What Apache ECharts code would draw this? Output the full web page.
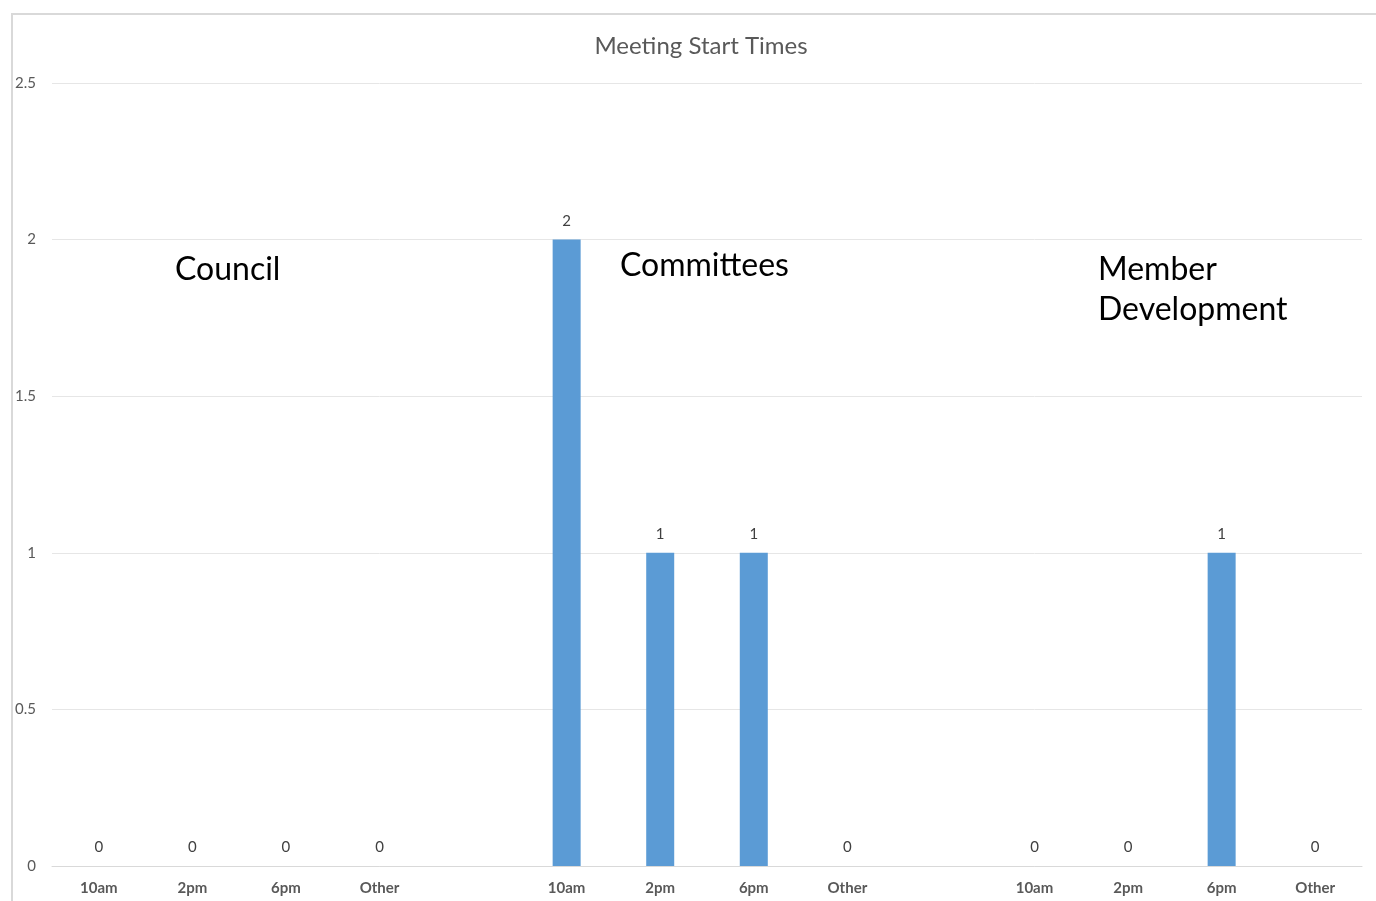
<!DOCTYPE html>
<html lang="en">
<head>
    <meta charset="UTF-8">
    <title>Meeting Start Times</title>
    <script src="https://cdn.jsdelivr.net/npm/echarts@6/dist/echarts.min.js"></script>
    <style>
        * { margin: 0; padding: 0; }
        #main { width: 1376px; height: 901px; background: #fff; }
    </style>
</head>
<body>
    <div id="main"></div>
    <script>
        // 14 slots: three groups of four, with an empty slot between groups
        var categories = ['10am', '2pm', '6pm', 'Other', '', '10am', '2pm', '6pm', 'Other', '', '10am', '2pm', '6pm', 'Other'];
        var counts = [0, 0, 0, 0, '-', 2, 1, 1, 0, '-', 0, 0, 1, 0];
        var groupNames = ['Council', 'Committees', 'Member\nDevelopment'];

        var myChart = echarts.init(document.getElementById('main'));
        var font = 'Lato, "Open Sans", sans-serif';

        var option = {
            backgroundColor: '#fff',
            animation: false,
            title: {
                text: 'Meeting Start Times',
                left: 696,
                textAlign: 'center',
                top: 29,
                textStyle: { color: '#595959', fontSize: 24, fontWeight: 'normal', fontFamily: font }
            },
            grid: { left: 52, right: 14, top: 83, bottom: 35 },
            xAxis: {
                type: 'category',
                data: categories,
                axisLine: { lineStyle: { color: '#d9d9d9' } },
                axisTick: { show: false },
                axisLabel: { color: '#595959', fontSize: 15, fontWeight: 'bold', margin: 15, interval: 0, fontFamily: font }
            },
            yAxis: {
                type: 'value',
                min: 0,
                max: 2.5,
                interval: 0.5,
                axisLine: { show: false },
                axisTick: { show: false },
                splitLine: { lineStyle: { color: '#e6e6e6' } },
                axisLabel: { color: '#595959', fontSize: 15, margin: 16, fontFamily: font }
            },
            graphic: [
                {
                    type: 'rect',
                    shape: { x: 12, y: 14, width: 1400, height: 1000 },
                    style: { fill: 'none', stroke: '#d9d9d9', lineWidth: 2 },
                    silent: true
                },
                {
                    type: 'text', left: 175, top: 254,
                    style: { text: groupNames[0], fill: '#000', font: '32px ' + font }
                },
                {
                    type: 'text', left: 620, top: 250,
                    style: { text: groupNames[1], fill: '#000', font: '32px ' + font }
                },
                {
                    type: 'text', left: 1098, top: 250,
                    style: { text: groupNames[2], fill: '#000', font: '32px ' + font, lineHeight: 40 }
                }
            ],
            series: [
                {
                    type: 'bar',
                    data: counts,
                    barWidth: 28,
                    itemStyle: { color: '#5b9bd5' },
                    label: {
                        show: true,
                        position: 'top',
                        distance: 11,
                        color: '#404040',
                        fontSize: 15,
                        fontFamily: font
                    }
                }
            ]
        };

        myChart.setOption(option);
    </script>
</body>
</html>
